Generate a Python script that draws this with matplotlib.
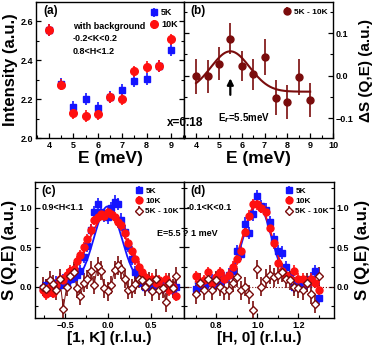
import matplotlib

matplotlib.use("Agg")
import matplotlib.pyplot as plt
import numpy as np
from matplotlib.ticker import MultipleLocator

plt.rcParams["font.family"] = ["Liberation Sans", "DejaVu Sans"]
plt.rcParams["font.weight"] = "bold"
plt.rcParams["axes.linewidth"] = 1.0

BLUE = "#1414ff"
RED = "#ff1010"
DARK = "#7a0c0c"

# (a) energy scan with background
e_a = [4, 4.5, 5, 5.5, 6, 6.5, 7, 7.5, 8, 8.5, 9]
int_5k = [2.556, 2.277, 2.158, 2.202, 2.153, 2.212, 2.247, 2.294, 2.304, 2.369, 2.452]
int_10k = [2.556, 2.275, 2.128, 2.114, 2.124, 2.209, 2.202, 2.343, 2.366, 2.371, 2.507]
err_a = 0.03

# (b) difference 5K - 10K
e_b = [4, 4.5, 5, 5.5, 6, 6.5, 7, 7.5, 8, 8.5, 9]
ds_b = [-0.002, -0.002, 0.028, 0.087, 0.022, 0.003, 0.043, -0.052, -0.062, -0.003, -0.057]
err_b = [0.042, 0.038, 0.038, 0.036, 0.036, 0.036, 0.042, 0.042, 0.040, 0.042, 0.040]
# gaussian fit: centre, sigma, amplitude, baseline
fit_b = [5.5, 0.85, 0.095, -0.038]

# (c) [1, K] cut
k_c = [-0.76, -0.72, -0.68, -0.64, -0.60, -0.56, -0.52, -0.48, -0.44, -0.40,
       -0.36, -0.32, -0.28, -0.24, -0.20, -0.16, -0.12, -0.08, -0.04, 0.00,
       0.04, 0.08, 0.12, 0.16, 0.20, 0.24, 0.28, 0.32, 0.36, 0.40,
       0.44, 0.48, 0.52, 0.56, 0.60, 0.64, 0.68, 0.72, 0.76, 0.80]
s_c_5k = [-0.02, 0.02, -0.05, 0.03, 0.05, 0.02, 0.08, 0.05, 0.10, 0.12,
          0.15, 0.20, 0.38, 0.52, 0.72, 0.95, 1.05, 0.95, 0.90, 0.88,
          1.00, 1.08, 1.05, 0.85, 0.70, 0.52, 0.35, 0.18, 0.08, 0.05,
          0.00, 0.02, -0.03, 0.00, 0.05, -0.02, 0.03, 0.00, -0.05, 0.00]
s_c_10k = [-0.05, -0.10, 0.00, -0.08, 0.02, 0.10, 0.08, 0.15, 0.20, 0.22,
           0.32, 0.40, 0.50, 0.60, 0.72, 0.85, 0.88, 0.92, 0.90, 0.95,
           0.92, 0.88, 0.82, 0.78, 0.68, 0.55, 0.45, 0.35, 0.25, 0.18,
           0.12, 0.08, 0.10, 0.05, 0.08, 0.00, 0.10, -0.05, 0.00, -0.12]
s_c_diff = [0.00, -0.03, 0.08, 0.03, -0.05, 0.10, -0.28, 0.00, 0.13, 0.19,
            -0.02, -0.12, 0.05, 0.09, 0.20, 0.02, 0.26, 0.20, -0.02, -0.06,
            0.02, 0.21, 0.27, 0.22, 0.10, -0.04, -0.02, 0.03, 0.10, 0.08,
            0.00, 0.06, -0.06, 0.10, -0.05, -0.02, -0.20, 0.05, -0.02, 0.13]
fit_c_5k = [0.0, 0.16, 1.0, 0.02]
fit_c_10k = [0.0, 0.23, 0.9, 0.02]

# (d) [H, 0] cut
h_d = [0.70, 0.72, 0.74, 0.76, 0.78, 0.80, 0.82, 0.84, 0.86, 0.88,
       0.90, 0.92, 0.94, 0.96, 0.98, 1.00, 1.02, 1.04, 1.06, 1.08,
       1.10, 1.12, 1.14, 1.16, 1.18, 1.20, 1.22, 1.24, 1.26, 1.28, 1.30]
s_d_5k = [-0.03, 0.02, 0.00, 0.05, 0.08, 0.03, 0.06, 0.10, 0.15, 0.20,
          0.45, 0.42, 0.80, 0.68, 0.92, 1.15, 1.02, 0.98, 0.82, 0.60,
          0.45, 0.43, 0.25, 0.12, 0.00, 0.02, 0.02, 0.05, 0.10, 0.20, -0.15]
s_d_10k = [0.13, 0.05, 0.08, 0.18, 0.05, 0.12, 0.18, 0.10, 0.15, 0.25,
           0.35, 0.45, 0.70, 0.90, 1.05, 1.05, 1.00, 0.95, 0.75, 0.55,
           0.30, 0.20, 0.15, 0.10, 0.20, 0.10, 0.10, 0.05, 0.10, 0.05, -0.05]
s_d_diff = [-0.10, 0.05, -0.05, 0.10, -0.05, 0.08, 0.00, -0.05, -0.05, 0.05,
            0.12, -0.05, 0.00, -0.10, -0.30, 0.22, 0.00, 0.10, 0.15, 0.12,
            0.15, 0.18, 0.10, 0.08, 0.00, -0.02, -0.05, 0.05, -0.10, -0.22, 0.13]
fit_d_5k = [1.0, 0.065, 1.02, 0.04]
fit_d_10k = [1.0, 0.068, 1.0, 0.06]

err_5k = 0.08
err_10k = 0.07
err_diff = 0.12


def gauss(x, p):
    c, s, a, b = p
    return b + a * np.exp(-((x - c) ** 2) / (2 * s ** 2))


def style(ax, right_labels=False):
    ax.tick_params(which="both", direction="in", left=True, right=True,
                   labelsize=6.5, pad=2)
    ax.tick_params(which="major", length=3.5, width=0.9)
    ax.tick_params(which="minor", length=2, width=0.8)
    if right_labels:
        ax.yaxis.tick_right()
        ax.yaxis.set_label_position("right")
        ax.tick_params(which="both", left=True, right=True)
    for lab in ax.get_xticklabels() + ax.get_yticklabels():
        lab.set_fontweight("bold")


fig = plt.figure(figsize=(3.74, 3.46), dpi=100)
W, H = 374, 346


def box(x0, y0, x1, y1):
    return [x0 / W, 1 - y1 / H, (x1 - x0) / W, (y1 - y0) / H]


ax_a = fig.add_axes(box(36, 2, 184, 138))
ax_b = fig.add_axes(box(184, 2, 333, 138))
ax_c = fig.add_axes(box(35, 182, 184, 318))
ax_d = fig.add_axes(box(184, 182, 334, 318))

ekw = dict(elinewidth=1.2, capsize=0, linestyle="none")

# panel (a)
ax_a.errorbar(e_a, int_5k, yerr=err_a, fmt="s", color=BLUE, ms=5, label="5K", **ekw)
ax_a.errorbar(e_a, int_10k, yerr=err_a, fmt="o", color=RED, ms=5.5, label="10K", **ekw)
ax_a.set_xlim(3.47, 9.53)
ax_a.set_ylim(2.0, 2.7)
ax_a.xaxis.set_major_locator(MultipleLocator(1))
ax_a.xaxis.set_minor_locator(MultipleLocator(0.5))
ax_a.yaxis.set_major_locator(MultipleLocator(0.2))
ax_a.yaxis.set_minor_locator(MultipleLocator(0.1))
ax_a.set_ylabel("Intensity (a.u.)", fontsize=12, fontweight="bold", labelpad=2)
ax_a.set_xlabel("E (meV)", fontsize=12.5, fontweight="bold", labelpad=1)
style(ax_a)
ax_a.legend(loc="upper right", frameon=False, fontsize=6.5, handletextpad=0.3,
            borderaxespad=0.3, labelspacing=0.35, handlelength=1.0)
ax_a.text(0.05, 0.98, "(a)", transform=ax_a.transAxes, fontsize=8.5,
          fontweight="bold", va="top")
ax_a.text(4.98, 2.51, "with background\n-0.2<K<0.2\n0.8<H<1.2", fontsize=6.5,
          fontweight="bold", va="center", linespacing=1.5)

# panel (b)
ax_b.errorbar(e_b, ds_b, yerr=err_b, fmt="o", color=DARK, ms=5, label="5K - 10K", **ekw)
xf = np.linspace(e_b[0], e_b[-1], 200)
ax_b.plot(xf, gauss(xf, fit_b), color=DARK, lw=1.5)
ax_b.annotate("", xy=(5.5, 0.0), xytext=(5.5, -0.052),
              arrowprops=dict(arrowstyle="-|>", color="black", lw=1.6,
                              mutation_scale=9))
ax_b.set_xlim(3.47, 10.0)
ax_b.set_ylim(-0.147, 0.173)
ax_b.xaxis.set_major_locator(MultipleLocator(1))
ax_b.xaxis.set_minor_locator(MultipleLocator(0.5))
ax_b.yaxis.set_major_locator(MultipleLocator(0.1))
ax_b.yaxis.set_minor_locator(MultipleLocator(0.05))
style(ax_b, right_labels=True)
ax_b.set_ylabel("ΔS (Q,E) (a.u.)", fontsize=11, fontweight="bold", labelpad=4)
ax_b.set_xlabel("E (meV)", fontsize=12.5, fontweight="bold", labelpad=1)
ax_b.legend(loc="upper right", frameon=False, fontsize=6, handletextpad=0.3,
            borderaxespad=0.3, handlelength=1.0)
ax_b.text(0.04, 0.98, "(b)", transform=ax_b.transAxes, fontsize=8.5,
          fontweight="bold", va="top")
ax_b.text(4.95, -0.1, "E$_r$=5.5meV", fontsize=7, fontweight="bold", va="center")

fig.text(167 / W, 1 - 123 / H, "x=0.18", fontsize=8.5, fontweight="bold", va="center")

# panel (c)
ax_c.errorbar(k_c, s_c_5k, yerr=err_5k, fmt="s", color=BLUE, ms=4.5, label="5K", **ekw)
ax_c.errorbar(k_c, s_c_10k, yerr=err_10k, fmt="o", color=RED, ms=5, label="10K", **ekw)
ax_c.errorbar(k_c, s_c_diff, yerr=err_diff, fmt="D", color=DARK, mfc="white",
              ms=4, mew=1.0, label="5K - 10K", **ekw)
ax_c.plot(k_c, s_c_diff, color=DARK, lw=0.7)
xc = np.linspace(k_c[0], k_c[-1], 300)
ax_c.plot(xc, gauss(xc, fit_c_5k), color=BLUE, lw=1.3)
ax_c.plot(xc, gauss(xc, fit_c_10k), color=RED, lw=1.3)
ax_c.set_xlim(-0.85, 0.89)
ax_c.set_ylim(-0.4, 1.33)
ax_c.xaxis.set_major_locator(MultipleLocator(0.5))
ax_c.xaxis.set_minor_locator(MultipleLocator(0.25))
ax_c.yaxis.set_major_locator(MultipleLocator(0.5))
ax_c.yaxis.set_minor_locator(MultipleLocator(0.25))
style(ax_c)
ax_c.set_ylabel("S (Q,E) (a.u.)", fontsize=12, fontweight="bold", labelpad=2)
ax_c.set_xlabel("[1, K] (r.l.u.)", fontsize=11, fontweight="bold", labelpad=1)
ax_c.legend(loc="upper right", frameon=False, fontsize=6, handletextpad=0.3,
            borderaxespad=0.2, labelspacing=0.3, handlelength=1.0)
ax_c.text(0.04, 0.98, "(c)", transform=ax_c.transAxes, fontsize=8.5,
          fontweight="bold", va="top")
ax_c.text(-0.77, 1.0, "0.9<H<1.1", fontsize=6.5, fontweight="bold", va="center")

# panel (d)
ax_d.errorbar(h_d, s_d_5k, yerr=err_5k, fmt="s", color=BLUE, ms=4.5, label="5K", **ekw)
ax_d.errorbar(h_d, s_d_10k, yerr=err_10k, fmt="o", color=RED, ms=5, label="10K", **ekw)
ax_d.errorbar(h_d, s_d_diff, yerr=err_diff, fmt="D", color=DARK, mfc="white",
              ms=4, mew=1.0, label="5K - 10K", **ekw)
xd = np.linspace(h_d[0], h_d[-1], 300)
ax_d.plot(xd, gauss(xd, fit_d_5k), color=BLUE, lw=1.3)
ax_d.plot(xd, gauss(xd, fit_d_10k), color=RED, lw=1.3)
ax_d.axhline(0, color=DARK, lw=0.8, ls=":")
ax_d.set_xlim(0.643, 1.373)
ax_d.set_ylim(-0.4, 1.33)
ax_d.xaxis.set_major_locator(MultipleLocator(0.2))
ax_d.xaxis.set_minor_locator(MultipleLocator(0.1))
ax_d.yaxis.set_major_locator(MultipleLocator(0.5))
ax_d.yaxis.set_minor_locator(MultipleLocator(0.25))
style(ax_d, right_labels=True)
ax_d.set_ylabel("S (Q,E) (a.u.)", fontsize=12, fontweight="bold", labelpad=4)
ax_d.set_xlabel("[H, 0] (r.l.u.)", fontsize=11, fontweight="bold", labelpad=1)
ax_d.legend(loc="upper right", frameon=False, fontsize=6, handletextpad=0.3,
            borderaxespad=0.2, labelspacing=0.3, handlelength=1.0)
ax_d.text(0.04, 0.98, "(d)", transform=ax_d.transAxes, fontsize=8.5,
          fontweight="bold", va="top")
ax_d.text(0.655, 1.0, "-0.1<K<0.1", fontsize=6.5, fontweight="bold", va="center")

fig.text(157 / W, 1 - 233 / H, "E=5.5 ? 1 meV", fontsize=6.5, fontweight="bold",
         va="center")

fig.savefig("out.png", dpi=100)
